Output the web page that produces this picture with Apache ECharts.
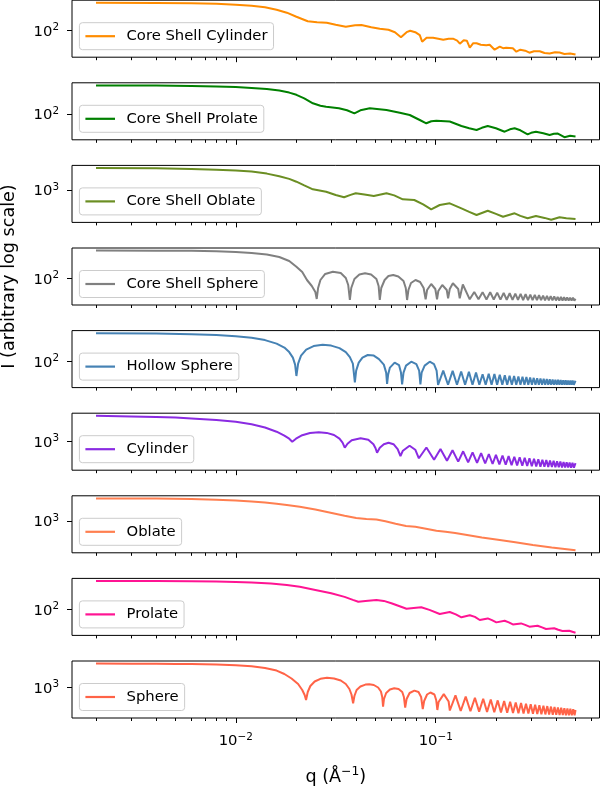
<!DOCTYPE html>
<html><head><meta charset="utf-8">
<script src="https://cdn.jsdelivr.net/npm/echarts@6/dist/echarts.min.js"></script>
<style>html,body{margin:0;padding:0;background:#fff}#c{width:602px;height:786px}</style>
</head><body><div id="c"></div>
<script>
// ---------------- data (q in 1/Å, intensity arbitrary) ----------------
const csCylQ = [0.002,0.004,0.006,0.008,0.01,0.012,0.014,0.016,0.018,0.0201,0.0229,0.0255,0.0285,0.0316,0.0355,0.0395,0.0425,0.0476,0.0525,0.058,0.0625,0.067,0.0715,0.0745,0.079,0.0832,0.0855,0.09,0.097,0.103,0.109,0.116,0.122,0.128,0.132,0.138,0.143,0.148,0.154,0.16,0.168,0.179,0.186,0.197,0.209,0.217,0.225,0.243,0.253,0.265,0.28,0.294,0.31,0.331,0.35,0.371,0.395,0.416,0.44,0.47,0.5];
const csCylI = [1.55e6,1.50e6,1.35e6,1.10e6,8.04e5,5.50e5,3.39e5,1.43e5,5.07e4,1.27e4,2.69e3,1.91e3,1.60e3,804,403,676,724,339,202,143,60.3,10.7,60.3,101,60.3,21.4,2.26,9.02,9.02,6.38,4.52,6.38,6.38,3.20,1.14,3.80,3.20,0.285,1.35,1.35,0.804,0.676,0.804,0.143,0.403,0.240,0.285,0.240,0.0716,0.143,0.101,0.0507,0.0851,0.0851,0.0457,0.0398,0.0603,0.0543,0.0324,0.0398,0.0263];

const csProQ = [0.002,0.004,0.006,0.008,0.01,0.012,0.0143,0.0165,0.0185,0.0201,0.022,0.0243,0.0265,0.0283,0.0328,0.036,0.0392,0.042,0.0468,0.0567,0.0661,0.0741,0.0832,0.0897,0.095,0.1007,0.1175,0.1344,0.147,0.16,0.17,0.182,0.2,0.221,0.235,0.248,0.265,0.288,0.3,0.317,0.345,0.371,0.39,0.408,0.44,0.47,0.5];
const csProI = [1.95e6,1.82e6,1.64e6,1.38e6,1.08e6,8.22e5,5.43e5,3.24e5,1.62e5,7.59e4,2.26e4,4.03e3,1.70e3,1.20e3,716,359,127,359,716,398,151,70.8,12.6,4.03,8.04,9.89,7.50,1.58,0.716,0.398,0.851,1.58,0.716,0.221,0.507,0.716,0.359,0.0902,0.151,0.221,0.127,0.0708,0.107,0.115,0.0331,0.0537,0.0437];

const csOblQ = [0.002,0.004,0.006,0.008,0.01,0.012,0.0143,0.0165,0.0185,0.0201,0.022,0.0243,0.0283,0.0316,0.0348,0.0375,0.0398,0.044,0.049,0.0567,0.062,0.0684,0.0781,0.0865,0.0949,0.1047,0.1175,0.1344,0.147,0.16,0.182,0.2,0.217,0.248,0.265,0.288,0.317,0.35,0.378,0.416,0.45,0.5];
const csOblI = [2.00e6,1.86e6,1.46e6,1.11e6,8.41e5,5.75e5,2.88e5,1.17e5,4.62e4,1.76e4,4.90e3,1.27e3,556,178,80.4,184,320,204,126,320,155,40.3,31.6,6.92,1.27,5.62,10.1,1.80,0.519,0.178,0.785,0.260,0.0989,0.320,0.130,0.0569,0.126,0.0653,0.0339,0.0804,0.0589,0.0462];

const csSphQ = [0.002,0.004,0.006,0.008,0.01,0.012,0.0143,0.0165,0.0185,0.0201,0.0215,0.0227,0.024,0.025,0.0254,
  0.0258,0.0265,0.028,0.0306,0.0335,0.0355,0.0365,0.0372,
  0.0378,0.0392,0.0415,0.0443,0.0475,0.0505,0.0518,0.0525,
  0.0534,0.0555,0.058,0.0613,0.065,0.069,0.0708,0.0719,
  0.073,0.0752,0.0792,0.0835,0.087,0.089,
  0.0905,0.0949,0.0995,0.1015,
  0.103,0.1078,0.1135,0.1153,
  0.1175,0.1218,0.1295,0.1318,
  0.1366,0.1479,
  0.1558,0.1636,0.1715,0.1793,0.1872,0.195,0.2029,0.2107,0.2186,0.2264,0.2343,0.2421,0.25,0.2578,0.2657,0.2735,0.2814,0.2892,0.2971,0.3049,0.3128,0.3206,0.3285,0.3363,0.3442,0.352,0.3599,0.3677,0.3756,0.3834,0.3913,0.3991,0.407,0.4148,0.4227,0.4305,0.4384,0.4462,0.4541,0.4619,0.4698,0.4776,0.4855,0.4933,0.5];
const csSphI = [1.45e6,1.40e6,1.35e6,1.14e6,8.91e5,6.31e5,3.76e5,1.58e5,3.98e4,5.56e3,891,56.2,7.08,0.891,0.0794,
  3.55,56.2,447,989,631,112,10.0,0.0562,
  3.55,79.4,376,569,376,79.4,7.08,0.0562,
  3.55,56.2,224,316,188,39.8,3.55,0.0562,
  1.78,20.0,56.2,28.2,3.55,0.0716,
  1.78,14.1,2.51,0.0716,
  1.26,10.0,1.78,0.101,
  2.51,18.0,2.51,0.101,
  11.9,0.0716,
  0.9,0.07,0.85,0.068,0.8,0.066,0.72,0.064,0.65,0.062,0.58,0.06,0.52,0.058,0.46,0.056,0.41,0.055,0.37,0.054,0.33,0.053,0.29,0.052,0.26,0.051,0.23,0.05,0.21,0.049,0.19,0.048,0.17,0.047,0.16,0.047,0.15,0.046,0.14,0.046,0.13,0.045,0.12,0.045,0.09];

const hollowQ = [0.002,0.004,0.006,0.008,0.01,0.012,0.014,0.016,0.0175,0.0185,0.0193,0.0198,0.0201,
  0.0205,0.0212,0.0225,0.0245,0.0272,0.03,0.033,0.0355,0.0372,0.0385,0.0394,
  0.04,0.0412,0.043,0.0457,0.049,0.052,0.055,0.0565,0.0571,
  0.0578,0.059,0.0623,0.0655,0.067,0.0679,
  0.069,0.071,0.0754,0.08,0.0826,0.0838,
  0.085,0.088,0.0933,0.098,0.101,0.1027,
  0.109,0.1152,0.1215,0.1277,0.134,0.1402,0.1465,0.1527,0.159,0.1652,0.1715,0.1777,0.184,0.1902,0.1965,0.2027,0.209,0.2152,0.2215,0.2277,0.234,0.2402,0.2465,0.2527,0.259,0.2652,0.2715,0.2777,0.284,0.2902,0.2965,0.3027,0.309,0.3152,0.3215,0.3277,0.334,0.3402,0.3465,0.3527,0.359,0.3652,0.3715,0.3777,0.384,0.3902,0.3965,0.4027,0.409,0.4152,0.4215,0.4277,0.434,0.4402,0.4465,0.4527,0.459,0.4652,0.4715,0.4777,0.484,0.4902,0.5];
const hollowI = [1.91e6,1.72e6,1.35e6,1.02e6,6.76e5,3.89e5,1.76e5,5.25e4,1.32e4,2.79e3,417,37.2,0.724,
  52.5,832,6.61e3,2.21e4,3.47e4,2.63e4,1.11e4,2.79e3,495,52.5,0.0822,
  4.68,74.1,417,1.02e3,832,248,37.2,2.34,0.0457,
  1.17,13.2,74.1,31.3,2.34,0.0412,
  2.34,26.3,101,44.2,4.68,0.0412,
  2.34,26.3,101,44.2,4.68,0.0324,
  4.68,0.035,4.2,0.035,3.5,0.035,3.0,0.035,2.4,0.035,1.3,0.035,1.6,0.035,1.4,0.035,1.1,0.035,0.9,0.035,0.8,0.035,0.7,0.035,0.6,0.035,0.55,0.035,0.5,0.035,0.42,0.035,0.38,0.035,0.33,0.035,0.3,0.035,0.27,0.035,0.25,0.035,0.23,0.035,0.21,0.035,0.2,0.035,0.19,0.035,0.18,0.035,0.17,0.035,0.16,0.035,0.155,0.035,0.15,0.035,0.148,0.035,0.14];

const cylQ = [0.002,0.003,0.004,0.005,0.006,0.008,0.01,0.012,0.014,0.016,0.0175,0.0185,0.01916,
  0.02,0.0215,0.0235,0.026,0.0285,0.031,0.033,0.0342,0.03508,
  0.0362,0.038,0.0421,0.046,0.0488,0.05,0.05087,
  0.0525,0.055,0.0581,0.0615,0.0645,0.06662,
  0.0685,0.074,0.079,0.08235,
  0.0898,0.09808,0.1056,0.1138,0.1213,0.1295,0.1371,0.1452,0.1528,0.1609,0.1686,0.1767,0.1843,0.1924,0.2,0.2081,0.2157,0.2238,0.2314,0.2395,0.2471,0.2552,0.2628,0.2709,0.2785,0.2866,0.2942,0.3023,0.31,0.3181,0.3257,0.3338,0.3414,0.3495,0.3571,0.3652,0.3728,0.3809,0.3885,0.3966,0.4042,0.4123,0.4199,0.428,0.4356,0.4437,0.4513,0.4594,0.467,0.4751,0.4828,0.4909,0.5];
const cylI = [7.76e6,6.31e6,5.13e6,4.17e6,3.16e6,1.82e6,1.01e6,4.27e5,1.36e5,3.20e4,8.04e3,2.85e3,1.01e3,
  2.85e3,9.55e3,2.04e4,2.69e4,2.11e4,1.02e4,2.85e3,716,127,
  507,1.70e3,3.27e3,2.02e3,427,107,22.6,
  127,427,716,427,75.9,7.24,
  45.2,254,63.8,3.27,
  136,1.95,84.1,1.38,53.7,1.05,36.7,0.822,26.0,0.668,19.1,0.543,14.5,0.457,11.0,0.398,8.61,0.347,7.00,0.313,5.69,0.282,4.62,0.254,3.89,0.229,3.27,0.214,2.75,0.200,2.40,0.186,2.02,0.174,1.76,0.168,1.53,0.157,1.38,0.151,1.20,0.146,1.08,0.141,0.944,0.136,0.851,0.134,0.767,0.132,0.692,0.132,0.624];

const oblQ = [0.002,0.004,0.006,0.008,0.01,0.012,0.014,0.016,0.018,0.0209,0.025,0.0306,0.035,0.04,0.045,0.0505,0.056,0.063,0.071,0.079,0.088,0.1008,0.112,0.125,0.141,0.17,0.209,0.25,0.306,0.38,0.5];
const oblI = [2.45e6,2.29e6,1.93e6,1.51e6,1.15e6,8.13e5,5.75e5,3.80e5,2.43e5,1.35e5,5.13e4,1.43e4,6.03e3,2.72e3,2.00e3,1.62e3,902,380,178,135,77.6,35.1,24.8,15.3,8.51,3.35,1.41,0.638,0.251,0.106,0.0417];

const proQ = [0.002,0.004,0.006,0.008,0.01,0.012,0.015,0.018,0.0209,0.025,0.03,0.035,0.0385,0.041,0.0445,0.0505,0.055,0.06,0.066,0.0714,0.0775,0.0846,0.093,0.1047,0.1175,0.126,0.1344,0.148,0.157,0.166,0.182,0.191,0.201,0.221,0.232,0.243,0.267,0.28,0.294,0.323,0.34,0.356,0.391,0.41,0.43,0.465,0.5];
const proI = [1.78e6,1.72e6,1.60e6,1.45e6,1.26e6,1.06e6,7.76e5,4.62e5,2.48e5,8.22e4,2.63e4,7.33e3,2.60e3,1.40e3,1.84e3,2.51e3,1.84e3,832,295,124,164,202,82.2,20.0,39.8,17.4,6.38,13.2,7.33,2.51,4.37,2.34,1.10,1.97,1.10,0.550,0.776,0.462,0.248,0.351,0.195,0.112,0.143,0.0851,0.0562,0.0624,0.0302];

const sphQ = [0.002,0.003,0.004,0.005,0.006,0.008,0.01,0.012,0.014,0.016,0.0175,0.019,0.0205,0.0215,0.0221,0.02246,
  0.0229,0.0236,0.0248,0.0265,0.0286,0.031,0.0335,0.0355,0.037,0.0379,0.03862,
  0.0392,0.0402,0.042,0.0445,0.0465,0.049,0.0515,0.0532,0.054,0.05452,
  0.0551,0.0565,0.059,0.062,0.0652,0.068,0.0693,0.07033,
  0.0715,0.074,0.0782,0.082,0.0845,0.08611,
  0.0875,0.0905,0.094,0.0985,0.1005,0.10186,
  0.1033,0.1097,0.116,0.1176,
  0.1255,0.1333,0.1412,0.1491,0.157,0.1648,0.1727,0.1805,0.1884,0.1962,0.2041,0.2119,0.2198,0.2276,0.2355,0.2434,0.2512,0.2591,0.267,0.2748,0.2827,0.2905,0.2984,0.3062,0.3141,0.3219,0.3298,0.3376,0.3455,0.3533,0.3612,0.369,0.3769,0.3847,0.3926,0.4004,0.4083,0.4161,0.424,0.4318,0.4397,0.4475,0.4554,0.4632,0.4711,0.4789,0.4868,0.4947,0.5];
const sphI = [4.07e6,4.0e6,3.87e6,3.67e6,3.43e6,2.88e6,2.34e6,1.6e6,8.91e5,3.63e5,1.12e5,2.37e4,3.55e3,447,79.4,14.1,
  224,1780,8410,2.14e4,3.13e4,2.37e4,1.19e4,3550,631,94.4,4.52,
  56.2,447,1500,2880,3200,2510,1060,266,39.8,1.40,
  20.0,158,531,804,631,224,39.8,0.989,
  20.0,158,363,224,39.8,0.631,
  10.0,94.4,188,94.4,14.1,0.447,
  7.08,108,8.41,0.376,
  69.2,0.316,45.7,0.285,31.3,0.257,22.1,0.232,16.8,0.209,12.3,0.188,9.66,0.176,7.59,0.158,5.96,0.148,4.84,0.138,3.94,0.129,3.31,0.120,2.79,0.112,2.34,0.105,1.97,0.0977,1.72,0.0944,1.45,0.0881,1.26,0.0851,1.10,0.0794,0.955,0.0767,0.861,0.0741,0.750,0.0716,0.676,0.0692,0.589,0.0692,0.447];

const names = ['Core Shell Cylinder','Core Shell Prolate','Core Shell Oblate','Core Shell Sphere','Hollow Sphere','Cylinder','Oblate','Prolate','Sphere'];
const yTickValues = [100, 100, 1000, 100, 100, 1000, 1000, 100, 1000];
const xMajorTicks = [0.01, 0.1];
const xMinorTicks = [0.002,0.003,0.004,0.005,0.006,0.007,0.008,0.009,0.02,0.03,0.04,0.05,0.06,0.07,0.08,0.09,0.2,0.3,0.4,0.5,0.6];

// ---------------- layout / style ----------------
const allQ = [csCylQ, csProQ, csOblQ, csSphQ, hollowQ, cylQ, oblQ, proQ, sphQ];
const allI = [csCylI, csProI, csOblI, csSphI, hollowI, cylI, oblI, proI, sphI];
const colors = ['#ff8c00','#008000','#6b8e23','#808080','#4682b4','#8a2be2','#ff7f50','#ff1493','#ff6347'];
const yTopExp = [6.58, 6.68, 6.69, 6.55, 6.67, 7.28, 6.78, 6.64, 7.0];
const ySpanDec = 8.55;
const xMin = 0.001517, xMax = 0.659;
const FONT = 'DejaVu Sans';
const FS = 14.8, FS_SUP = 10.4, FS_LABEL = 17.6;
const GL = 72, GW = 527.5, GH = 57, PITCH = 82.6, TOP0 = 0.2;

function pow10Label(v) {
  const e = Math.round(Math.log10(v));
  return '{b|10}{s|' + String(e).replace('-', '\u2212') + '}';
}
const tickRich = {
  b: {fontFamily: FONT, fontSize: FS, color: '#000', lineHeight: 18, verticalAlign: 'bottom'},
  s: {fontFamily: FONT, fontSize: FS_SUP, color: '#000', lineHeight: 12, padding: [0, 0, 7, 0], verticalAlign: 'bottom'}
};
const labelRich = {
  b: {fontFamily: FONT, fontSize: FS_LABEL, color: '#000', lineHeight: 21, verticalAlign: 'bottom'},
  s: {fontFamily: FONT, fontSize: 12.3, color: '#000', lineHeight: 14, padding: [0, 0, 8, 0], verticalAlign: 'bottom'}
};

const grid = [], xAxis = [], yAxis = [], series = [], legend = [];
for (let i = 0; i < 9; i++) {
  const top = TOP0 + PITCH * i;
  grid.push({left: GL, width: GW, top: top, height: GH, show: true, borderColor: '#000', borderWidth: 1,
    backgroundColor: 'rgba(0,0,0,0)', containLabel: false, outerBoundsMode: 'none'});
  const last = i === 8;
  xAxis.push({type: 'log', logBase: 10, gridIndex: i, min: xMin, max: xMax, position: 'bottom',
    axisLine: {show: false}, splitLine: {show: false}, minorTick: {show: false},
    axisTick: {show: true, inside: false, length: 5, customValues: xMajorTicks, lineStyle: {color: '#000', width: 1}},
    axisLabel: {show: last, customValues: xMajorTicks, formatter: pow10Label, rich: tickRich, margin: 13},
    name: last ? '{b|q (\u00C5}{s|\u22121}{b|)}' : '', nameLocation: 'middle', nameGap: 47,
    nameTextStyle: {rich: labelRich}});
  xAxis.push({type: 'log', logBase: 10, gridIndex: i, min: xMin, max: xMax, position: 'bottom',
    axisLine: {show: false}, splitLine: {show: false}, minorTick: {show: false},
    axisTick: {show: true, inside: false, length: 3, customValues: xMinorTicks, lineStyle: {color: '#000', width: 1}},
    axisLabel: {show: false}});
  const yt = yTickValues[i];
  yAxis.push({type: 'log', logBase: 10, gridIndex: i,
    min: Math.pow(10, yTopExp[i] - ySpanDec), max: Math.pow(10, yTopExp[i]),
    axisLine: {show: false}, splitLine: {show: false}, minorTick: {show: false},
    axisTick: {show: true, inside: false, length: 5, customValues: [yt], lineStyle: {color: '#000', width: 1}},
    axisLabel: {show: true, customValues: [yt], formatter: pow10Label, rich: tickRich, margin: 13},
    name: i === 3 ? 'I (arbitrary log scale)' : '', nameLocation: 'middle', nameGap: 54, nameRotate: 90,
    nameTextStyle: {fontFamily: FONT, fontSize: FS_LABEL, color: '#000'}});
  const data = allQ[i].map((q, k) => [q, allI[i][k]]);
  series.push({type: 'line', name: names[i], xAxisIndex: 2 * i, yAxisIndex: i, data: data,
    symbol: 'none', showSymbol: false, smooth: false, clip: true,
    lineStyle: {color: colors[i], width: 2}, itemStyle: {color: colors[i]}, emphasis: {disabled: true}});
  legend.push({data: [names[i]], left: 79.4, top: top + 22.5, orient: 'horizontal',
    icon: 'rect', itemWidth: 29.6, itemHeight: 2.2, padding: [6, 6, 6, 6], itemGap: 0,
    backgroundColor: 'rgba(255,255,255,0.8)', borderColor: '#cccccc', borderWidth: 1, borderRadius: 3,
    selectedMode: false,
    textStyle: {fontFamily: FONT, fontSize: FS, color: '#000', padding: [0, 0, 0, 6.5]}});
}

const chart = echarts.init(document.getElementById('c'), null, {renderer: 'canvas'});
chart.setOption({animation: false, backgroundColor: '#fff', grid, xAxis, yAxis, series, legend});
</script></body></html>
